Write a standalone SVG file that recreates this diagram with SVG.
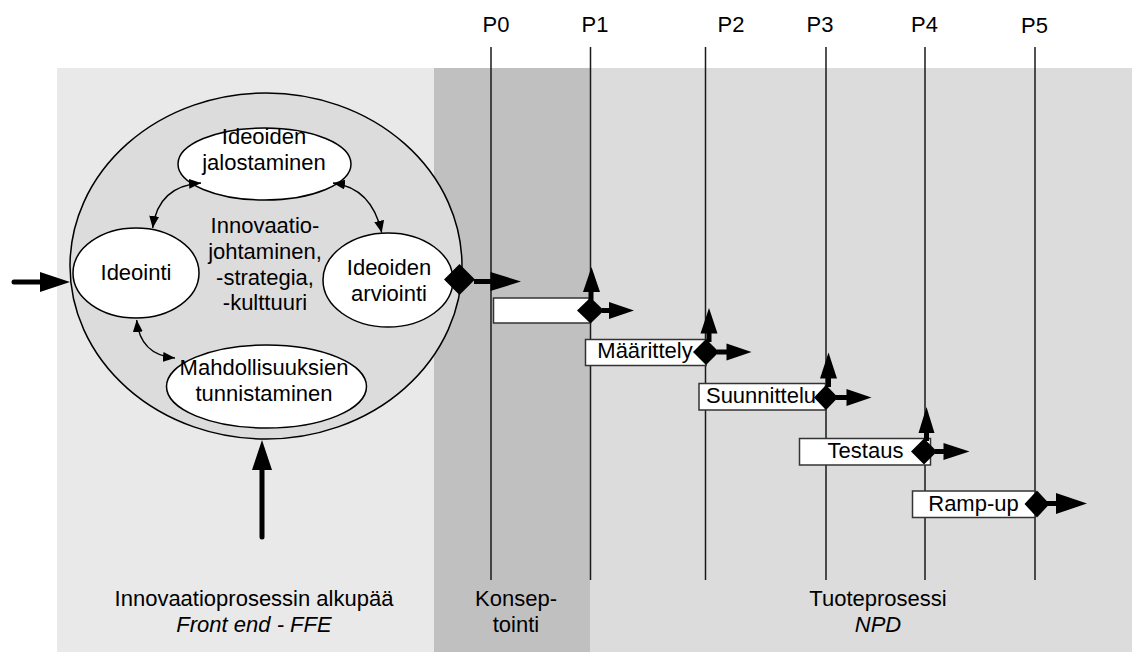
<svg xmlns="http://www.w3.org/2000/svg" width="1132" height="653" viewBox="0 0 1132 653">
  <defs>
    <style>
      text { font-family: "Liberation Sans", Arial, sans-serif; font-size: 22px; fill: #000; text-anchor: middle; }
      .it { font-style: italic; }
      .gate { stroke: #1a1a1a; stroke-width: 1.5; fill: none; }
      .node { fill: #fff; stroke: #000; stroke-width: 1.5; }
      .box { fill: #fff; stroke: #333; stroke-width: 1.5; }
      .link { fill: none; stroke: #000; stroke-width: 1.4; marker-start: url(#tip); marker-end: url(#tip); }
      .shaft { stroke: #000; stroke-width: 5; fill: none; }
      .solid { fill: #000; stroke: none; }
    </style>
    <marker id="tip" viewBox="0 0 12 10" refX="12" refY="5" markerWidth="12" markerHeight="10" markerUnits="userSpaceOnUse" orient="auto-start-reverse">
      <path d="M0,0 L12,5 L0,10 Z" fill="#000"/>
    </marker>
  </defs>

  <!-- phase backgrounds -->
  <g id="phases">
    <rect x="57" y="68" width="377" height="584" fill="#e9e9e9"/>
    <rect x="434" y="68" width="156" height="584" fill="#c0c0c0"/>
    <rect x="590" y="68" width="542" height="584" fill="#dcdcdc"/>
  </g>

  <!-- front-end cycle -->
  <g id="front-end">
    <ellipse cx="266" cy="266" rx="196" ry="173" fill="#dcdcdc" stroke="#000" stroke-width="1.5"/>
  </g>

  <g id="jalostaminen">
    <ellipse class="node" cx="264.5" cy="164" rx="86.5" ry="36"/>
    <text x="264" y="144">Ideoiden</text>
    <text x="264" y="170">jalostaminen</text>
  </g>
  <g id="ideointi">
    <ellipse class="node" cx="136" cy="273" rx="63" ry="45"/>
    <text x="136" y="280">Ideointi</text>
  </g>
  <g id="arviointi">
    <ellipse class="node" cx="388" cy="280" rx="65" ry="47"/>
    <text x="389" y="275">Ideoiden</text>
    <text x="389" y="301">arviointi</text>
  </g>
  <g id="tunnistaminen">
    <ellipse class="node" cx="266.5" cy="386.5" rx="100" ry="41.5"/>
    <text x="264" y="375">Mahdollisuuksien</text>
    <text x="264" y="401">tunnistaminen</text>
  </g>
  <g id="johtaminen">
    <text x="265" y="233">Innovaatio-</text>
    <text x="265" y="259">johtaminen,</text>
    <text x="265" y="285">-strategia,</text>
    <text x="265" y="310">-kulttuuri</text>
  </g>

  <!-- milestone gates -->
  <g id="gates">
    <line class="gate" x1="491" y1="47" x2="491" y2="580"/>
    <line class="gate" x1="590.5" y1="47" x2="590.5" y2="580"/>
    <line class="gate" x1="705.5" y1="47" x2="705.5" y2="580"/>
    <line class="gate" x1="826" y1="47" x2="826" y2="580"/>
    <line class="gate" x1="925" y1="47" x2="925" y2="580"/>
    <line class="gate" x1="1035" y1="47" x2="1035" y2="580"/>
    <text x="496" y="32">P0</text>
    <text x="595" y="32">P1</text>
    <text x="731" y="32">P2</text>
    <text x="820" y="32">P3</text>
    <text x="924.5" y="32">P4</text>
    <text x="1034.5" y="33">P5</text>
  </g>

  <!-- product process stages -->
  <g id="konseptointi">
    <rect class="box" x="493.5" y="298" width="97" height="25"/>
  </g>
  <g id="maarittely">
    <rect class="box" x="585.5" y="339.5" width="120.5" height="26"/>
    <text x="645" y="358">Määrittely</text>
  </g>
  <g id="suunnittelu">
    <rect class="box" x="699" y="383.5" width="126.5" height="26.5"/>
    <text x="761" y="403">Suunnittelu</text>
  </g>
  <g id="testaus">
    <rect class="box" x="799.5" y="438.5" width="131" height="26.5"/>
    <text x="865.5" y="458">Testaus</text>
  </g>
  <g id="ramp-up">
    <rect class="box" x="912.5" y="491" width="122.5" height="26.5"/>
    <text x="973.5" y="510.5">Ramp-up</text>
  </g>

  <!-- connectors -->
  <g id="connectors">
    <!-- cycle links -->
    <path class="link" d="M201,183 Q158,186 152.7,228"/>
    <path class="link" d="M333,183 Q372,188 381.7,232.7"/>
    <path class="link" d="M136.7,320 Q140,355 175,358"/>

    <!-- inputs to the front end -->
    <line class="shaft" x1="14" y1="282" x2="45" y2="282" stroke-linecap="round"/>
    <polygon class="solid" points="40,272 70,282 40,292"/>
    <line class="shaft" x1="262" y1="537" x2="262" y2="465" stroke-linecap="round"/>
    <polygon class="solid" points="252,470 262,440 272,470"/>

    <!-- front end to concept -->
    <polygon class="solid" points="459.5,264 475,279.5 459.5,295 444,279.5"/>
    <line class="shaft" x1="474" y1="281.5" x2="494" y2="281.5"/>
    <polygon class="solid" points="490.5,272 521,281.5 490.5,291"/>

    <!-- P1 -->
    <line x1="591" y1="300" x2="591" y2="288" stroke="#000" stroke-width="5"/>
    <polygon class="solid" points="583,292 591.5,267 600,292"/>
    <polygon class="solid" points="590.5,297.5 604,310.5 590.5,323.5 577,310.5"/>
    <line x1="602" y1="310.5" x2="612" y2="310.5" stroke="#000" stroke-width="5"/>
    <polygon class="solid" points="609,302 634,310.5 609,319"/>

    <!-- P2 -->
    <line x1="709" y1="342" x2="709" y2="330" stroke="#000" stroke-width="5"/>
    <polygon class="solid" points="700.5,333.5 709,308 717.5,333.5"/>
    <polygon class="solid" points="706,339 719,352 706,365 693,352"/>
    <line x1="717" y1="352" x2="729" y2="352" stroke="#000" stroke-width="5"/>
    <polygon class="solid" points="726.5,343.5 751.5,352 726.5,360.5"/>

    <!-- P3 -->
    <line x1="828.5" y1="387" x2="828.5" y2="375" stroke="#000" stroke-width="5"/>
    <polygon class="solid" points="820,378.5 828.5,352.5 837,378.5"/>
    <polygon class="solid" points="826,385 838,397.5 826,410 814,397.5"/>
    <line x1="836" y1="397.5" x2="849" y2="397.5" stroke="#000" stroke-width="5"/>
    <polygon class="solid" points="846.5,389 871.5,397.5 846.5,406"/>

    <!-- P4 -->
    <line x1="926.5" y1="441" x2="926.5" y2="429" stroke="#000" stroke-width="5"/>
    <polygon class="solid" points="918.5,433 926.5,407 934.5,433"/>
    <polygon class="solid" points="924,438.5 937,451.5 924,464.5 911,451.5"/>
    <line x1="935" y1="451.5" x2="946" y2="451.5" stroke="#000" stroke-width="5"/>
    <polygon class="solid" points="943.5,443 969.5,451.5 943.5,460"/>

    <!-- P5 -->
    <polygon class="solid" points="1037,490.5 1049.5,504 1037,517.5 1024.5,504"/>
    <line x1="1047" y1="503.5" x2="1059" y2="503.5" stroke="#000" stroke-width="5"/>
    <polygon class="solid" points="1056,493 1087,503.5 1056,514"/>
  </g>

  <!-- phase captions -->
  <g id="captions">
    <text x="254" y="606">Innovaatioprosessin alkupää</text>
    <text class="it" x="254" y="632">Front end - FFE</text>
    <text x="516" y="606">Konsep-</text>
    <text x="516" y="632">tointi</text>
    <text x="878" y="606">Tuoteprosessi</text>
    <text class="it" x="878" y="632">NPD</text>
  </g>
</svg>
